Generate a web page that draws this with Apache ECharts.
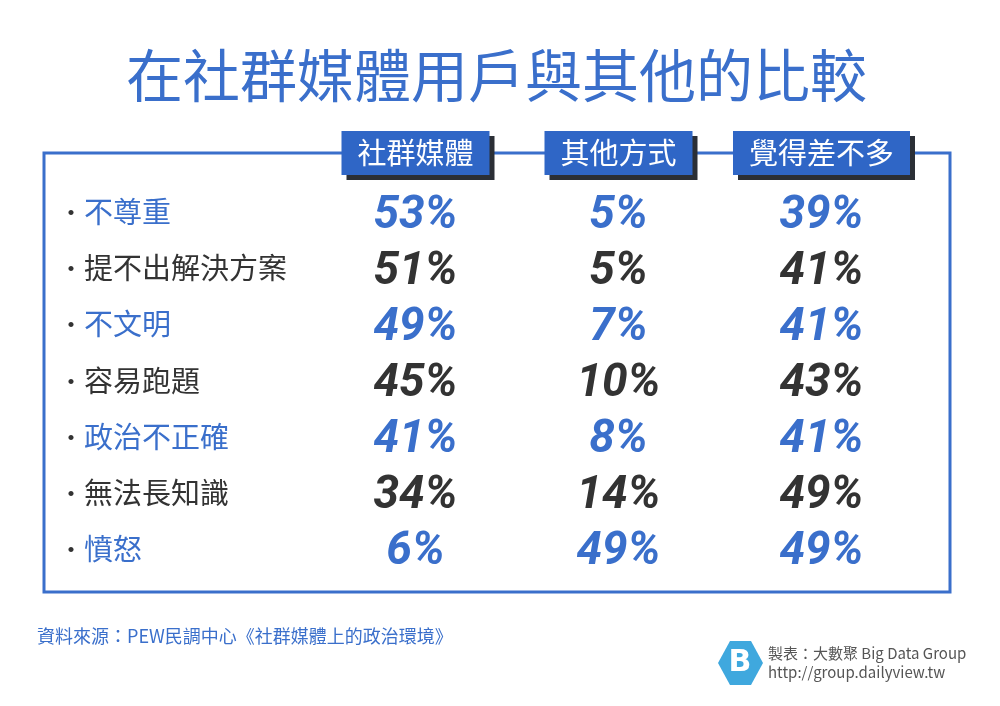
<!DOCTYPE html>
<html lang="zh-Hant">
    <head>
        <title>在社群媒體用戶與其他的比較</title>
        <meta charset="utf-8">
        <script src='https://cdn.jsdelivr.net/npm/echarts@6/dist/echarts.min.js'></script>
    </head>

    <style>
        html, body, #main {
            width: 100%;
            height: 100%;
            margin: 0;
            background: #fff;
        }
    </style>

    <body>
        <div id='main'></div>

        <script>
            const columns = ['社群媒體', '其他方式', '覺得差不多'];
            const rows = ['不尊重', '提不出解決方案', '不文明', '容易跑題', '政治不正確', '無法長知識', '憤怒'];
            const socialMedia = [53, 51, 49, 45, 41, 34, 6];
            const otherWays = [5, 5, 7, 10, 8, 14, 49];
            const aboutSame = [39, 41, 41, 43, 41, 49, 49];

            const BLUE = '#3a6fcb';
            const BOX = '#2f66c6';
            const DARK = '#333333';
            const CJK = '"Noto Sans CJK TC", "Noto Sans CJK SC", sans-serif';

            const rowColor = i => (i % 2 === 0 ? BLUE : DARK);

            const data = [];
            [socialMedia, otherWays, aboutSame].forEach(function (values, col) {
                values.forEach(function (v, row) {
                    data.push({
                        value: [col, row, v],
                        label: { color: rowColor(row) }
                    });
                });
            });

            const chart = echarts.init(document.getElementById('main'));

            const option = {
                backgroundColor: '#fff',
                animation: false,
                title: {
                    text: '在社群媒體用戶與其他的比較',
                    left: 121,
                    top: 42,
                    textStyle: {
                        color: BLUE,
                        fontFamily: CJK,
                        fontSize: 57,
                        fontWeight: 'normal'
                    }
                },
                grid: {
                    left: 314,
                    right: 77,
                    top: 184,
                    bottom: 129
                },
                xAxis: {
                    type: 'category',
                    position: 'top',
                    data: columns,
                    z: 5,
                    axisLine: { show: false },
                    axisTick: { show: false },
                    splitLine: { show: false },
                    axisLabel: {
                        margin: 9,
                        color: '#fff',
                        fontFamily: CJK,
                        fontSize: 29,
                        lineHeight: 32,
                        backgroundColor: BOX,
                        padding: [6, 16, 6, 16],
                        shadowColor: '#2b2f36',
                        shadowOffsetX: 5,
                        shadowOffsetY: 5
                    }
                },
                yAxis: {
                    type: 'category',
                    inverse: true,
                    data: rows,
                    axisLine: { show: false },
                    axisTick: { show: false },
                    splitLine: { show: false },
                    axisLabel: {
                        margin: 255,
                        align: 'left',
                        fontFamily: CJK,
                        fontSize: 29,
                        formatter: function (v, i) {
                            return '{d|·}{' + (i % 2 === 0 ? 'b' : 'k') + '|' + v + '}';
                        },
                        rich: {
                            d: { fontSize: 24, color: DARK, fontFamily: CJK, width: 25 },
                            b: { fontSize: 29, color: BLUE, fontFamily: CJK },
                            k: { fontSize: 29, color: DARK, fontFamily: CJK }
                        }
                    }
                },
                series: [{
                    type: 'scatter',
                    symbolSize: 0,
                    itemStyle: { opacity: 1 },
                    data: data,
                    label: {
                        show: true,
                        position: 'inside',
                        offset: [0, 4],
                        fontFamily: 'Roboto, "DejaVu Sans", sans-serif',
                        fontStyle: 'italic',
                        fontWeight: 'bold',
                        fontSize: 46,
                        formatter: p => p.value[2] + '%'
                    }
                }],
                graphic: [
                    {
                        type: 'rect',
                        z: -1,
                        shape: { x: 44, y: 153, width: 906, height: 439 },
                        style: { fill: 'none', stroke: BLUE, lineWidth: 3 }
                    },
                    {
                        type: 'text',
                        left: 37,
                        top: 627,
                        style: {
                            text: '資料來源：PEW民調中心《社群媒體上的政治環境》',
                            fill: BLUE,
                            font: '18px ' + CJK
                        }
                    },
                    {
                        type: 'polygon',
                        shape: {
                            points: [[730, 641], [751, 641], [763, 663], [751, 685], [730, 685], [718, 663]]
                        },
                        style: { fill: '#3fa8de' }
                    },
                    {
                        type: 'text',
                        x: 740,
                        y: 663,
                        style: {
                            text: 'B',
                            fill: '#fff',
                            font: 'bold 30px "DejaVu Sans", sans-serif',
                            align: 'center',
                            verticalAlign: 'middle'
                        }
                    },
                    {
                        type: 'text',
                        left: 768,
                        top: 644,
                        style: {
                            text: '製表：大數聚 Big Data Group\nhttp://group.dailyview.tw',
                            fill: '#555',
                            font: '15px ' + CJK,
                            lineHeight: 19
                        }
                    }
                ]
            };

            chart.setOption(option);

            window.onresize = function () {
                chart.resize();
            }
        </script>
    </body>
</html>
